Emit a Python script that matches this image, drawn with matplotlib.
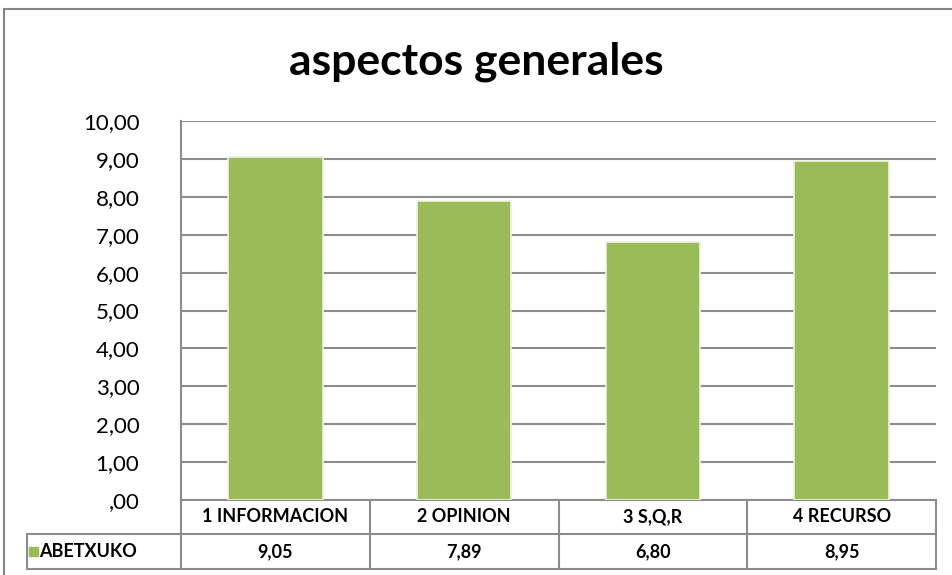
import matplotlib.pyplot as plt
from matplotlib.transforms import blended_transform_factory
from matplotlib.patches import Rectangle

categories = ['1 INFORMACION', '2 OPINION', '3 S,Q,R', '4 RECURSO']
values = [9.05, 7.89, 6.80, 8.95]
series_name = 'ABETXUKO'
y_ticks = [0, 1, 2, 3, 4, 5, 6, 7, 8, 9, 10]

green = '#9BBB59'
line_col = '#8C8C8C'
W, H = 953, 575

plt.rcParams['font.family'] = ['Lato', 'DejaVu Sans']

fig = plt.figure(figsize=(W / 100, H / 100), dpi=100)
fig.patch.set_facecolor('white')

# outer chart frame
fig.add_artist(Rectangle((4 / W, -0.01), 1.0, 1 - 9 / H + 0.01, transform=fig.transFigure,
                         fill=False, edgecolor='#868686', lw=1.5))

ax = fig.add_axes([181 / W, 1 - 500 / H, (936 - 181) / W, (500 - 121) / H])
x = range(len(categories))
ax.bar(x, values, width=0.5, color=green, edgecolor='#EEF3E2', lw=1.2, zorder=3)
ax.set_xlim(-0.5, 3.5)
ax.set_ylim(0, 10)
ax.set_yticks(y_ticks)
ax.set_yticklabels([('%d,00' % v) if v else ',00' for v in y_ticks], fontsize=16)
ax.tick_params(axis='y', length=0, pad=30)
ax.set_xticks([])
ax.grid(axis='y', color=line_col, lw=1.5, zorder=0)
for s in ['top', 'right', 'bottom']:
    ax.spines[s].set_visible(False)
ax.spines['left'].set_color(line_col)
ax.spines['left'].set_linewidth(1.5)

fig.text(0.5, 1 - 62 / H, 'aspectos generales', ha='center', va='center',
         fontsize=32, fontweight='bold')

# data table under the axis
tr = blended_transform_factory(ax.transData, fig.transFigure)
y0, y1, y2 = 1 - 500 / H, 1 - 534 / H, 1 - 569 / H
xl = -0.5 - (181 - 27) / (755 / 4)
kw = dict(transform=tr, color=line_col, lw=1.5, clip_on=False)
ax.plot([-0.5, 3.5], [y0, y0], **kw)
ax.plot([xl, 3.5], [y1, y1], **kw)
ax.plot([xl, 3.5], [y2, y2], **kw)
for b in [-0.5, 0.5, 1.5, 2.5, 3.5]:
    ax.plot([b, b], [y0, y2], **kw)
ax.plot([xl, xl], [y1, y2], **kw)

for i, (c, v) in enumerate(zip(categories, values)):
    ax.text(i, (y0 + y1) / 2, c, transform=tr, ha='center', va='center',
            fontsize=13, fontweight='bold', clip_on=False)
    ax.text(i, (y1 + y2) / 2, ('%.2f' % v).replace('.', ','), transform=tr,
            ha='center', va='center', fontsize=13, fontweight='bold', clip_on=False)

fig.add_artist(Rectangle((29 / W, (y1 + y2) / 2 - 4.5 / H), 9 / W, 9 / H,
                         transform=fig.transFigure, color=green))
fig.text(39 / W, (y1 + y2) / 2, series_name, ha='left', va='center',
         fontsize=13, fontweight='bold')

fig.savefig('out.png', dpi=100)
